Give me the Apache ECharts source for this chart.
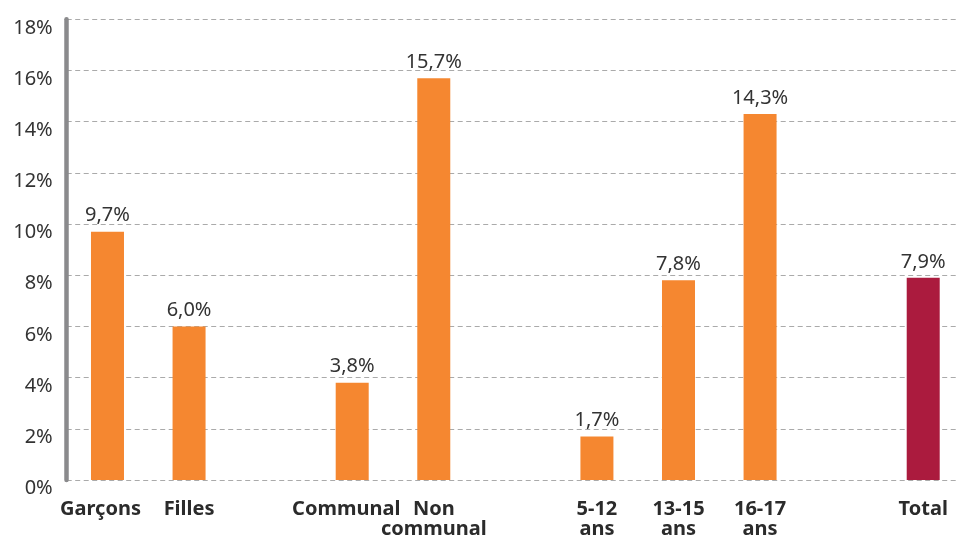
<!DOCTYPE html>
<html>
<head>
<meta charset="utf-8">
<script src="https://cdn.jsdelivr.net/npm/echarts@6/dist/echarts.min.js"></script>
<style>html,body{margin:0;padding:0;background:#fff;overflow:hidden;width:957px;height:539px}#c{width:964px;height:539px}</style>
</head>
<body>
<div id="c"></div>
<script>
var categories = ['Garçons', 'Filles', '', 'Communal', 'Non\ncommunal', '', '5-12\nans', '13-15\nans', '16-17\nans', '', 'Total'];
var values = [9.7, 6.0, null, 3.8, 15.7, null, 1.7, 7.8, 14.3, null, 7.9];
var highlight = [false, false, false, false, false, false, false, false, false, false, true];
var yTicks = [0, 2, 4, 6, 8, 10, 12, 14, 16, 18];
// horizontal nudge of some category labels (pixels, negative = left)
var labelShift = [-7, 0, 0, -6, 0, 0, 0, 0, 0, 0, 0];

var orange = '#F58730', crimson = '#AB1B3E';
var chart = echarts.init(document.getElementById('c'));
chart.setOption({
  animation: false,
  grid: { left: 66.7, right: 0, top: 19.3, bottom: 56.5, containLabel: false },
  xAxis: {
    type: 'category',
    data: categories.map(function (c, i) {
      var s = labelShift[i];
      return { value: c, textStyle: { padding: s < 0 ? [0, -2 * s, 0, 0] : [0, 0, 0, 2 * s] } };
    }),
    axisLine: { show: false },
    axisTick: { show: false },
    axisLabel: {
      interval: 0, margin: 19,
      color: '#2b2b2b', fontFamily: 'Noto Sans', fontWeight: 'bold', fontSize: 20, lineHeight: 20
    }
  },
  yAxis: {
    type: 'value', min: 0, max: 18, interval: 2,
    axisLine: { show: true, onZero: false, lineStyle: { color: '#8a8a8c', width: 4.5 } },
    axisTick: { show: false },
    axisLabel: {
      margin: 14, color: '#333', fontFamily: 'Noto Sans', fontSize: 20, lineHeight: 17,
      formatter: function (v) { return yTicks.indexOf(v) >= 0 ? '\n' + v + '%' : ''; }
    },
    splitLine: { show: true, lineStyle: { color: '#aaaaaa', type: [5, 3.5], width: 1.2 } }
  },
  series: [{
    type: 'bar',
    barWidth: 33,
    data: values.map(function (v, i) {
      return { value: v, itemStyle: { color: highlight[i] ? crimson : orange } };
    }),
    label: {
      show: true, position: 'top', distance: 6,
      color: '#333', fontFamily: 'Noto Sans', fontSize: 20,
      formatter: function (p) { return p.value == null ? '' : p.value.toFixed(1).replace('.', ',') + '%'; }
    }
  }]
});
</script>
</body>
</html>
